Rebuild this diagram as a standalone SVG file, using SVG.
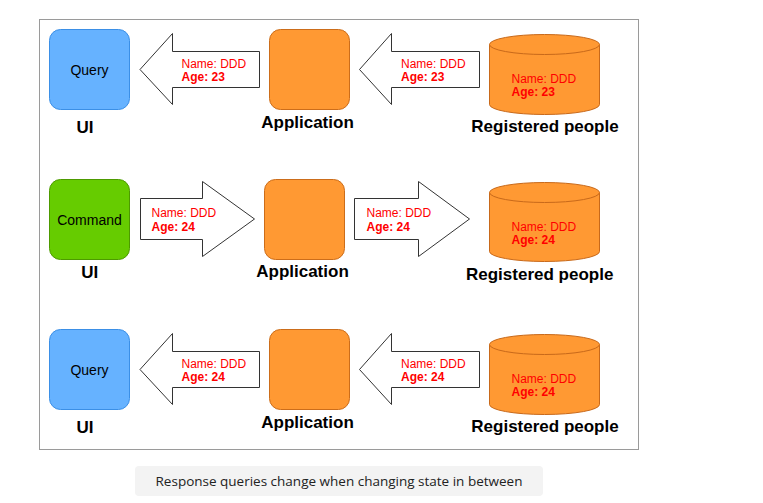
<svg xmlns="http://www.w3.org/2000/svg" width="763" height="503" viewBox="0 0 763 503">
<defs>
<style>
.frame{fill:#ffffff;stroke:#9a9a9a;stroke-width:1}
.query{fill:#66b2ff;stroke:#3b8fe6;stroke-width:1}
.cmd{fill:#66cc00;stroke:#4d9a00;stroke-width:1}
.app{fill:#ff9933;stroke:#cc6d1a;stroke-width:1}
.db{fill:#ff9933;stroke:#c8691a;stroke-width:1}
.arrow{fill:#ffffff;stroke:#333333;stroke-width:1;stroke-linejoin:miter}
.inner{font-family:"Liberation Sans",Arial,sans-serif;font-size:14px;fill:#000000;text-anchor:middle}
.lbl{font-family:"Liberation Sans",Arial,sans-serif;font-size:17px;font-weight:bold;fill:#000000;text-anchor:middle}
.nm{font-family:"Liberation Sans",Arial,sans-serif;font-size:12px;fill:#ff0000}
.ag{font-family:"Liberation Sans",Arial,sans-serif;font-size:12px;font-weight:bold;fill:#ff0000}
.cap{font-family:"Open Sans","Lato",sans-serif;font-size:13.5px;fill:#222222;text-anchor:middle}
</style>
</defs>
<rect class="frame" x="39.5" y="19.5" width="599" height="430"/>

<g id="connectors">
  <g id="arrow-r1-a">
    <path class="arrow" d="M140,69.5 L172.5,33.5 L172.5,51.5 L259.5,51.5 L259.5,87.5 L172.5,87.5 L172.5,104.5 Z"/>
    <text class="nm" x="181.5" y="67.5">Name: DDD</text>
    <text class="ag" x="181.5" y="81">Age: 23</text>
  </g>
  <g id="arrow-r1-b">
    <path class="arrow" d="M359.5,69.5 L391.5,33.5 L391.5,51.5 L479.5,51.5 L479.5,87.5 L391.5,87.5 L391.5,104.5 Z"/>
    <text class="nm" x="401" y="67.5">Name: DDD</text>
    <text class="ag" x="401" y="81">Age: 23</text>
  </g>
  <g id="arrow-r2-a">
    <path class="arrow" d="M254.5,219 L202.5,181.5 L202.5,198.5 L140.5,198.5 L140.5,239.5 L202.5,239.5 L202.5,256.5 Z"/>
    <text class="nm" x="151.5" y="216.7">Name: DDD</text>
    <text class="ag" x="151.5" y="231">Age: 24</text>
  </g>
  <g id="arrow-r2-b">
    <path class="arrow" d="M469.5,219 L418.5,181.5 L418.5,198.5 L354.5,198.5 L354.5,239.5 L418.5,239.5 L418.5,256.5 Z"/>
    <text class="nm" x="366.5" y="216.7">Name: DDD</text>
    <text class="ag" x="366.5" y="231">Age: 24</text>
  </g>
  <g id="arrow-r3-a">
    <path class="arrow" d="M140,369.5 L172.5,333.5 L172.5,351.5 L259.5,351.5 L259.5,387.5 L172.5,387.5 L172.5,404.5 Z"/>
    <text class="nm" x="181.5" y="367.5">Name: DDD</text>
    <text class="ag" x="181.5" y="381">Age: 24</text>
  </g>
  <g id="arrow-r3-b">
    <path class="arrow" d="M359.5,369.5 L391.5,333.5 L391.5,351.5 L479.5,351.5 L479.5,387.5 L391.5,387.5 L391.5,404.5 Z"/>
    <text class="nm" x="401" y="367.5">Name: DDD</text>
    <text class="ag" x="401" y="381">Age: 24</text>
  </g>
</g>

<g id="ui-query-1">
  <rect class="query" x="49.5" y="29.5" width="80" height="80" rx="11"/>
  <text class="inner" x="89.5" y="74.5">Query</text>
  <text class="lbl" x="85" y="133">UI</text>
</g>
<g id="app-1">
  <rect class="app" x="269.5" y="29.5" width="80" height="80" rx="11"/>
  <text class="lbl" x="307.5" y="127.5">Application</text>
</g>
<g id="db-1">
  <path class="db" d="M489.5,44.5 A55,10 0 0 1 599.5,44.5 L599.5,104.5 A55,10 0 0 1 489.5,104.5 Z"/>
  <path class="db" d="M489.5,44.5 A55,10 0 0 0 599.5,44.5" fill="none"/>
  <text class="nm" x="511.5" y="83.3">Name: DDD</text>
  <text class="ag" x="511.5" y="96">Age: 23</text>
  <text class="lbl" x="545" y="131.7">Registered people</text>
</g>

<g id="ui-command-2">
  <rect class="cmd" x="49.5" y="179.5" width="80" height="80" rx="11"/>
  <text class="inner" x="89.5" y="224.5">Command</text>
  <text class="lbl" x="89.7" y="277.5">UI</text>
</g>
<g id="app-2">
  <rect class="app" x="264.5" y="179.5" width="80" height="80" rx="11"/>
  <text class="lbl" x="302.5" y="277.3">Application</text>
</g>
<g id="db-2">
  <path class="db" d="M489.5,192.5 A55,10 0 0 1 599.5,192.5 L599.5,251.5 A55,10 0 0 1 489.5,251.5 Z"/>
  <path class="db" d="M489.5,192.5 A55,10 0 0 0 599.5,192.5" fill="none"/>
  <text class="nm" x="511.5" y="230.7">Name: DDD</text>
  <text class="ag" x="511.5" y="244">Age: 24</text>
  <text class="lbl" x="539.7" y="280">Registered people</text>
</g>

<g id="ui-query-3">
  <rect class="query" x="49.5" y="329.5" width="80" height="80" rx="11"/>
  <text class="inner" x="89.5" y="374.5">Query</text>
  <text class="lbl" x="85" y="432.7">UI</text>
</g>
<g id="app-3">
  <rect class="app" x="269.5" y="329.5" width="80" height="80" rx="11"/>
  <text class="lbl" x="307.5" y="427.5">Application</text>
</g>
<g id="db-3">
  <path class="db" d="M489.5,344.5 A55,10 0 0 1 599.5,344.5 L599.5,404.5 A55,10 0 0 1 489.5,404.5 Z"/>
  <path class="db" d="M489.5,344.5 A55,10 0 0 0 599.5,344.5" fill="none"/>
  <text class="nm" x="511.5" y="383.3">Name: DDD</text>
  <text class="ag" x="511.5" y="396">Age: 24</text>
  <text class="lbl" x="545" y="431.7">Registered people</text>
</g>

<g id="caption">
  <rect x="135" y="466" width="408" height="30" rx="4" fill="#f3f3f3"/>
  <text class="cap" x="339" y="485.5">Response queries change when changing state in between</text>
</g>
</svg>
